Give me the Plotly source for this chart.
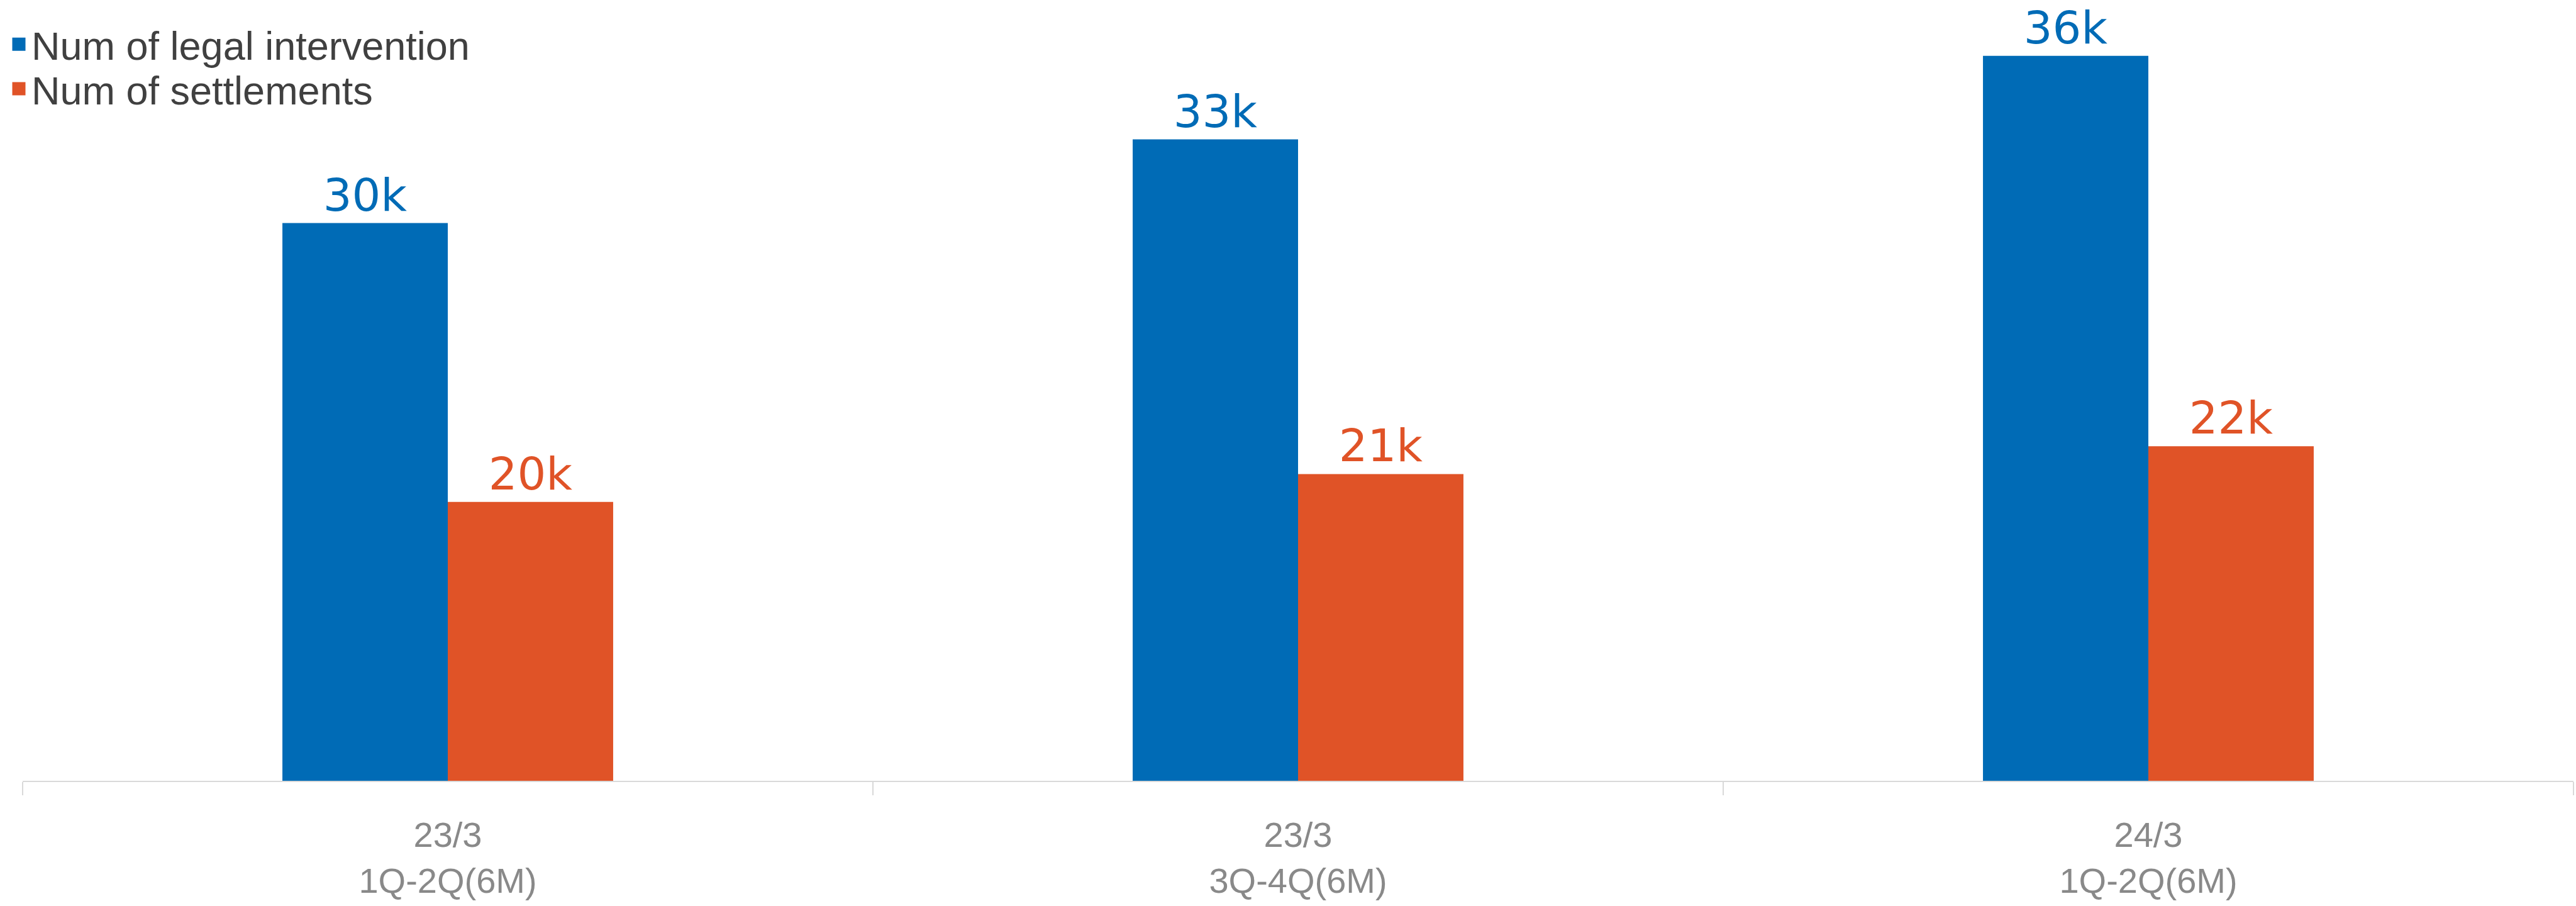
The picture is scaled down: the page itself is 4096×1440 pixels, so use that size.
import plotly.graph_objects as go

categories = ["23/3<br>1Q-2Q(6M)", "23/3<br>3Q-4Q(6M)", "24/3<br>1Q-2Q(6M)"]
legal_intervention = [30000, 33000, 36000]
settlements = [20000, 21000, 22000]
legal_labels = ["30k", "33k", "36k"]
settlement_labels = ["20k", "21k", "22k"]
series_names = ["Num of legal intervention", "Num of settlements"]

BLUE = "#006BB6"
ORANGE = "#E05327"

fig = go.Figure()
fig.add_trace(go.Bar(
    x=categories, y=legal_intervention, name=series_names[0],
    marker=dict(color=BLUE, line=dict(width=0)),
    text=legal_labels, textposition="outside", cliponaxis=False,
    textfont=dict(family="DejaVu Sans", size=72, color=BLUE),
    showlegend=False, legendgroup="g1",
))
fig.add_trace(go.Bar(
    x=categories, y=settlements, name=series_names[1],
    marker=dict(color=ORANGE, line=dict(width=0)),
    text=settlement_labels, textposition="outside", cliponaxis=False,
    textfont=dict(family="DejaVu Sans", size=72, color=ORANGE),
    showlegend=False, legendgroup="g2",
))
# legend entries (square swatches) linked to the bar series
for name, color, grp, leg in [(series_names[0], BLUE, "g1", "legend"),
                              (series_names[1], ORANGE, "g2", "legend2")]:
    fig.add_trace(go.Scatter(
        x=[None], y=[None], mode="markers", name=name,
        marker=dict(symbol="square", size=16, color=color, line=dict(color=color, width=5)),
        legendgroup=grp, legend=leg, showlegend=True, hoverinfo="skip",
    ))

PLOT_H = 1241
PLOT_W = 4056
legend_common = dict(
    font=dict(family="Liberation Sans", size=63, color="#404040"),
    x=-26 / PLOT_W, xanchor="left", yanchor="middle",
    bgcolor="rgba(0,0,0,0)", borderwidth=0, itemwidth=30,
)

fig.update_layout(
    width=4096, height=1440,
    margin=dict(l=36, r=4, t=0, b=199),
    paper_bgcolor="white", plot_bgcolor="white",
    barmode="group", bargap=0.611, bargroupgap=0,
    showlegend=True,
    legend=dict(y=1 - 70.4 / PLOT_H, **legend_common),
    legend2=dict(y=1 - 141 / PLOT_H, **legend_common),
    xaxis=dict(
        showline=True, linecolor="#D9D9D9", linewidth=2,
        ticks="outside", tickson="boundaries", ticklen=21,
        tickcolor="#D9D9D9", tickwidth=2,
        tickfont=dict(family="Liberation Sans", size=56, color="#898989"),
        ticklabelstandoff=36,
        showgrid=False, zeroline=False,
    ),
    yaxis=dict(range=[10000, 38000], visible=False, showgrid=False, zeroline=False),
)

fig.write_html("out.html", config={"displayModeBar": False},
               post_script="document.body.style.margin='0';")
